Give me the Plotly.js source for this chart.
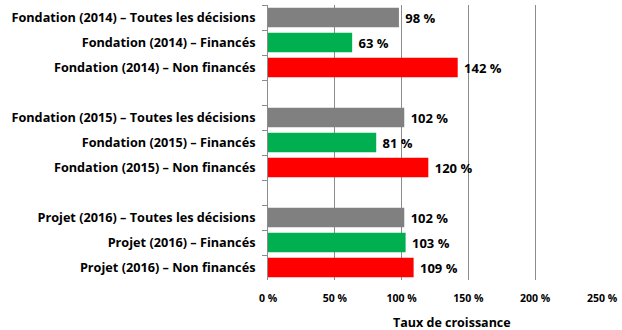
<!DOCTYPE html>
<html><head><meta charset="utf-8">
<script src="https://cdn.plot.ly/plotly-3.0.1.min.js"></script>
<style>html,body{margin:0;padding:0;background:#fff}#c{width:622px;height:330px}</style>
</head><body><div id="c"></div>
<script>
const categories = [
  "Fondation (2014) – Toutes les décisions",
  "Fondation (2014) – Financés",
  "Fondation (2014) – Non financés",
  " ",
  "Fondation (2015) – Toutes les décisions",
  "Fondation (2015) – Financés",
  "Fondation (2015) – Non financés",
  "  ",
  "Projet (2016) – Toutes les décisions",
  "Projet (2016) – Financés",
  "Projet (2016) – Non financés"
];
const values = [98, 63, 142, null, 102, 81, 120, null, 102, 103, 109];
const colors = ["#808080", "#00b050", "#ff0000", "#fff", "#808080", "#00b050", "#ff0000", "#fff", "#808080", "#00b050", "#ff0000"];
const xTickVals = [0, 50, 100, 150, 200, 250];
const xTickText = ["0 %", "50 %", "100 %", "150 %", "200 %", "250 %"];
const xTitle = "Taux de croissance";

const font = "Open Sans, Liberation Sans, sans-serif";
Plotly.newPlot("c", [{
  type: "bar", orientation: "h",
  x: values, y: categories,
  marker: {color: colors, line: {width: 0}},
  width: 0.78,
  text: values.map(v => v == null ? "" : "\u00a0" + v + " %"),
  textposition: "outside",
  cliponaxis: false,
  textfont: {family: font, size: 13, color: "#000", weight: "bold"},
  hoverinfo: "none"
}], {
  width: 622, height: 330,
  margin: {l: 268, r: 20, t: 5, b: 50},
  paper_bgcolor: "#fff", plot_bgcolor: "#fff",
  showlegend: false,
  xaxis: {
    range: [0, 250], tickvals: xTickVals, ticktext: xTickText,
    showgrid: true, gridcolor: "#8c8c8c", gridwidth: 1,
    zeroline: false, showline: false, ticks: "",
    ticklabelstandoff: 10,
    tickfont: {family: font, size: 10.5, color: "#000", weight: "bold"}
  },
  yaxis: {
    type: "category", autorange: "reversed",
    showline: true, linecolor: "#8c8c8c", linewidth: 1,
    ticks: "outside", tickson: "boundaries", ticklen: 5, tickcolor: "#8c8c8c",
    showgrid: false, ticklabelstandoff: 9,
    tickfont: {family: font, size: 12.7, color: "#000", weight: "bold"}
  },
  annotations: [{
    text: xTitle, xref: "paper", yref: "paper", x: 0.551, y: 0,
    xanchor: "center", yanchor: "middle", yshift: -42, showarrow: false,
    font: {family: font, size: 12.5, color: "#000", weight: "bold"}
  }]
}, {staticPlot: true});
</script></body></html>
